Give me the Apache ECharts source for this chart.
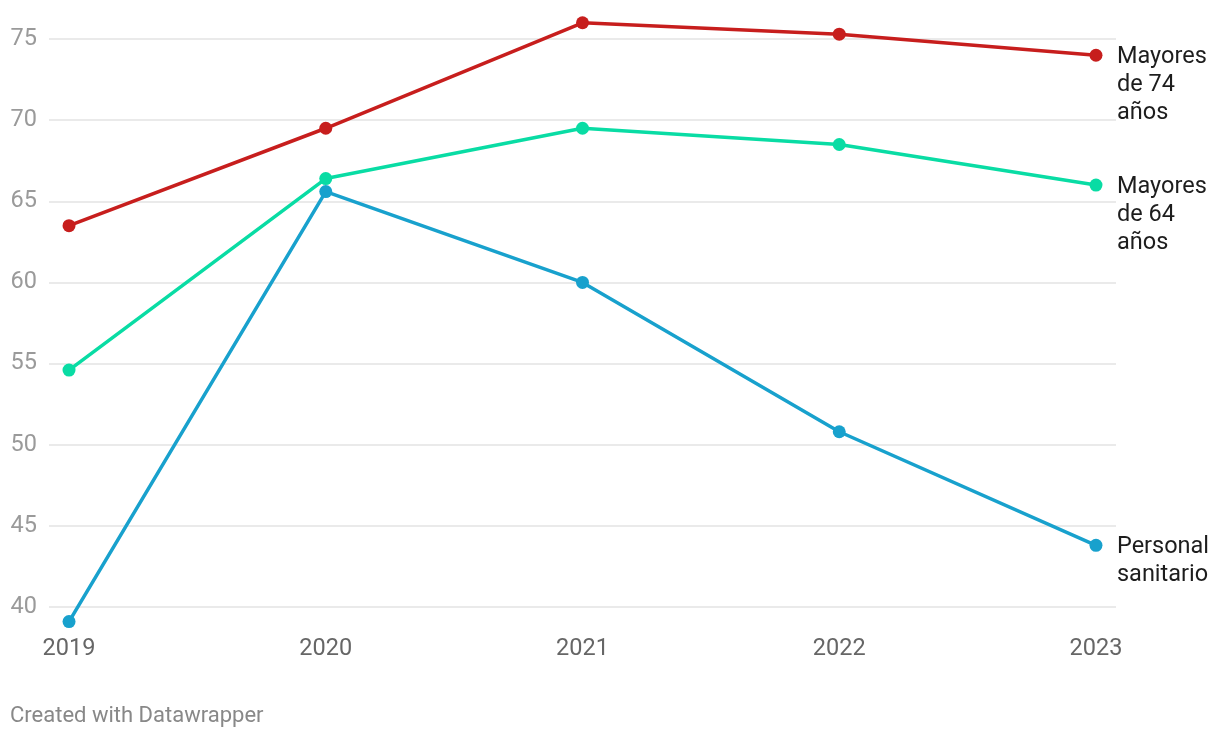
<!DOCTYPE html>
<html><head><meta charset="utf-8">
<script src="https://cdn.jsdelivr.net/npm/echarts@6/dist/echarts.min.js"></script>
<style>html,body{margin:0;padding:0;background:#fff}#c{width:1220px;height:738px}</style>
</head><body><div id="c"></div>
<script>
var years = [2019, 2020, 2021, 2022, 2023];
var mayores74 = [63.5, 69.5, 76.0, 75.3, 74.0];
var mayores64 = [54.6, 66.4, 69.5, 68.5, 66.0];
var sanitario = [39.1, 65.6, 60.0, 50.8, 43.8];
var yTicks = [40, 45, 50, 55, 60, 65, 70, 75];
var names = ['Mayores\nde 74\naños', 'Mayores\nde 64\naños', 'Personal\nsanitario'];
var colors = ['#c71e1d', '#09dca4', '#18a1cd'];

function pairs(v){ return years.map(function(y,i){ return [y, v[i]]; }); }
function mk(name, data, color){
  return {
    type:'line', name:name, data:pairs(data), clip:false,
    symbol:'circle', symbolSize:13,
    lineStyle:{width:3.5, color:color}, itemStyle:{color:color},
    endLabel:{show:true, formatter:name, color:'#1d1d1d', fontSize:23.5, lineHeight:28,
      fontFamily:'Roboto', verticalAlign:'top', align:'left', offset:[16,-12], distance:5},
    emphasis:{disabled:true}
  };
}
var chart = echarts.init(document.getElementById('c'), null, {renderer:'canvas'});
chart.setOption({
  animation:false,
  grid:{left:49, right:104, top:39, bottom:131, containLabel:false},
  xAxis:{type:'value', min:2019-0.078, max:2023+0.078,
    axisLine:{show:false}, axisTick:{show:false}, splitLine:{show:false},
    axisLabel:{customValues:years, color:'#666', fontSize:23.5, fontFamily:'Roboto', margin:30,
      formatter:function(v){return String(v);}}},
  yAxis:{type:'value', min:40, max:75, interval:5,
    axisLine:{show:false}, axisTick:{show:false},
    splitLine:{lineStyle:{color:'#e3e3e3', width:1.5}},
    axisLabel:{customValues:yTicks, color:'#9a9a9a', fontSize:23.5, fontFamily:'Roboto', margin:12}},
  series:[mk(names[0], mayores74, colors[0]), mk(names[1], mayores64, colors[1]), mk(names[2], sanitario, colors[2])],
  graphic:[{type:'text', left:10, top:705, style:{text:'Created with Datawrapper', fill:'#888', fontSize:22, fontFamily:'Roboto'}}]
});
</script></body></html>
